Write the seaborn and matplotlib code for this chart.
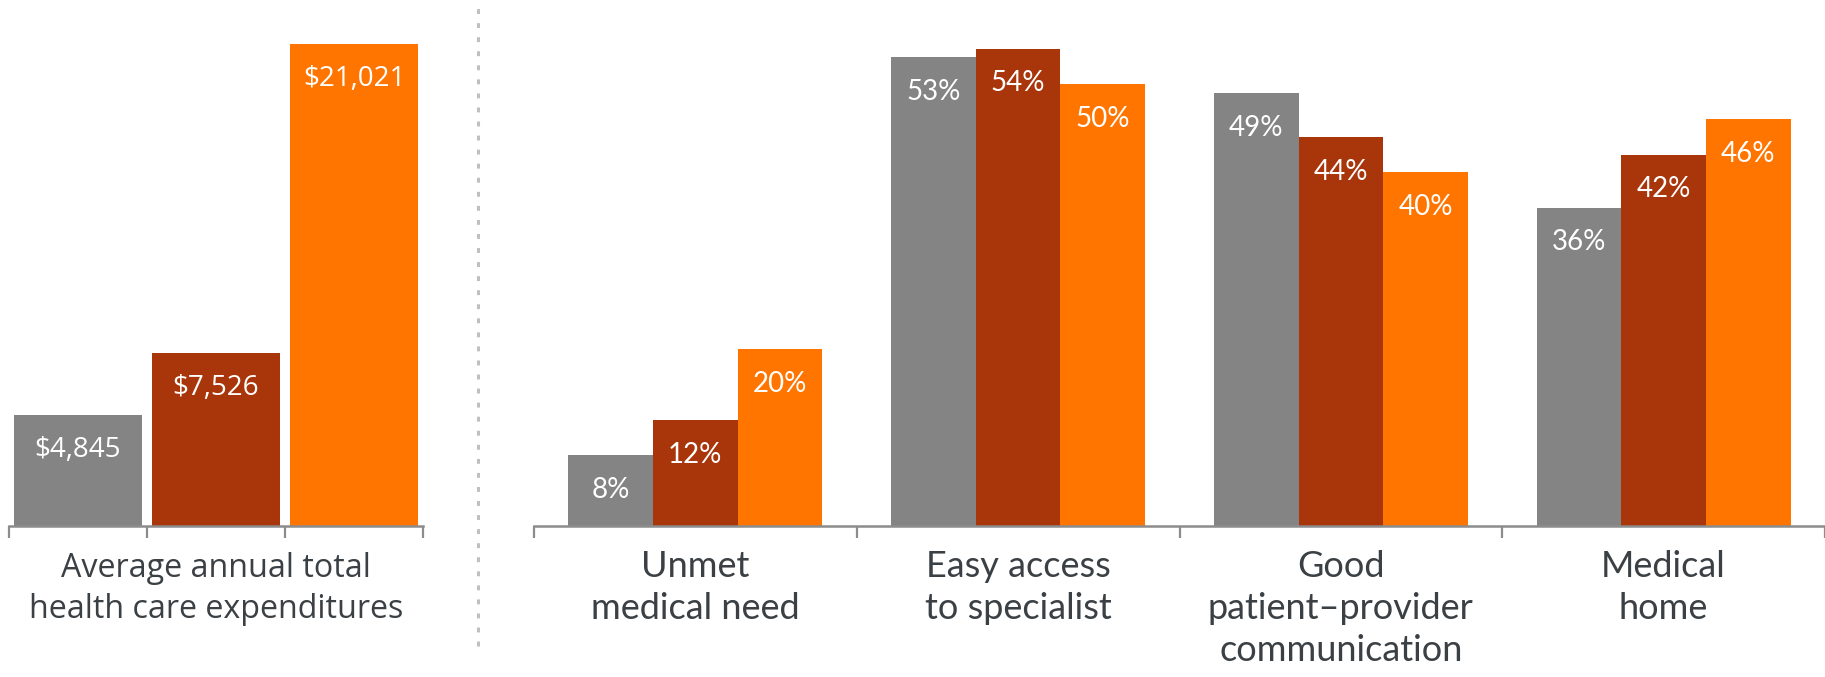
import matplotlib
matplotlib.use("Agg")
import matplotlib.pyplot as plt
import matplotlib.lines as mlines
import pandas as pd
import seaborn as sns

sns.set_theme(style="white")
plt.rcParams["font.family"] = ["Lato", "DejaVu Sans"]

# data
series = ["Group 1", "Group 2", "Group 3"]
colors = ["#848484", "#A9350A", "#FF7500"]

spend_label = "Average annual total\nhealth care expenditures"
spend = [4845, 7526, 21021]

measures = [
    "Unmet\nmedical need",
    "Easy access\nto specialist",
    "Good\npatient\u2013provider\ncommunication",
    "Medical\nhome",
]
pct_g1 = [8, 53, 49, 36]
pct_g2 = [12, 54, 44, 42]
pct_g3 = [20, 50, 40, 46]

TEXT = "#3B4044"
AXIS = "#8C8C8C"
W, H = 1825, 677

fig = plt.figure(figsize=(W / 100, H / 100), dpi=100)
base = 1 - 526 / H
ax_l = fig.add_axes([9 / W, base, (423 - 9) / W, 1 - base])
ax_r = fig.add_axes([534 / W, base, (W - 534) / W, 1 - base])

# left panel: spending
df_l = pd.DataFrame({"series": series, "spend": spend})
sns.barplot(data=df_l, x="series", y="spend", hue="series", palette=colors,
            width=0.93, legend=False, saturation=1, ax=ax_l)
for cont, v in zip(ax_l.containers, spend):
    for bar in cont:
        ax_l.annotate(f"${v:,}", (bar.get_x() + bar.get_width() / 2, bar.get_height()),
                      xytext=(0, -25), textcoords="offset points", ha="center", va="center",
                      color="white", fontsize=20, family=["Open Sans", "DejaVu Sans"])
ax_l.set_xlim(-0.5, 2.5)
ax_l.set_ylim(0, 22940)
ax_l.set_xticks([1])
ax_l.set_xticklabels([spend_label], fontsize=23.2, color=TEXT, linespacing=1.32,
                     family=["Open Sans", "DejaVu Sans"])
ax_l.set_xticks([-0.5, 0.5, 1.5, 2.5], minor=True)

# right panel: access measures
df_r = pd.DataFrame({
    "measure": measures * 3,
    "series": [s for s in series for _ in measures],
    "pct": pct_g1 + pct_g2 + pct_g3,
})
sns.barplot(data=df_r, x="measure", y="pct", hue="series", palette=colors,
            width=0.787, gap=0, legend=False, saturation=1, ax=ax_r)
for cont, vals in zip(ax_r.containers, [pct_g1, pct_g2, pct_g3]):
    for bar, v in zip(cont, vals):
        ax_r.annotate(f"{v}%", (bar.get_x() + bar.get_width() / 2, bar.get_height()),
                      xytext=(0, -25), textcoords="offset points", ha="center", va="center",
                      color="white", fontsize=20)
ax_r.set_xlim(-0.5, 3.5)
ax_r.set_ylim(0, 59.5)
ax_r.set_xticks(range(len(measures)))
ax_r.set_xticklabels(measures, fontsize=26, color=TEXT, linespacing=1.34)
ax_r.set_xticks([-0.5, 0.5, 1.5, 2.5, 3.5], minor=True)

for ax in (ax_l, ax_r):
    ax.set_xlabel("")
    ax.set_ylabel("")
    ax.set_yticks([])
    ax.set_facecolor("none")
    for s in ("top", "left", "right"):
        ax.spines[s].set_visible(False)
    ax.spines["bottom"].set_color(AXIS)
    ax.spines["bottom"].set_linewidth(1.8)
    ax.tick_params(axis="x", which="minor", length=8.5, width=1.6, color=AXIS,
                   direction="out", bottom=True)
    for b in ax.patches:
        b.set_edgecolor("none")
ax_l.tick_params(axis="x", which="major", length=0, pad=19)
ax_r.tick_params(axis="x", which="major", length=0, pad=17)

# dotted divider between panels
fig.add_artist(mlines.Line2D([478 / W, 478 / W], [0.046, 0.991], transform=fig.transFigure,
                             color="#BFBFBF", lw=2.2, linestyle=(0, (1.6, 3))))

fig.savefig("out.png", dpi=100)
